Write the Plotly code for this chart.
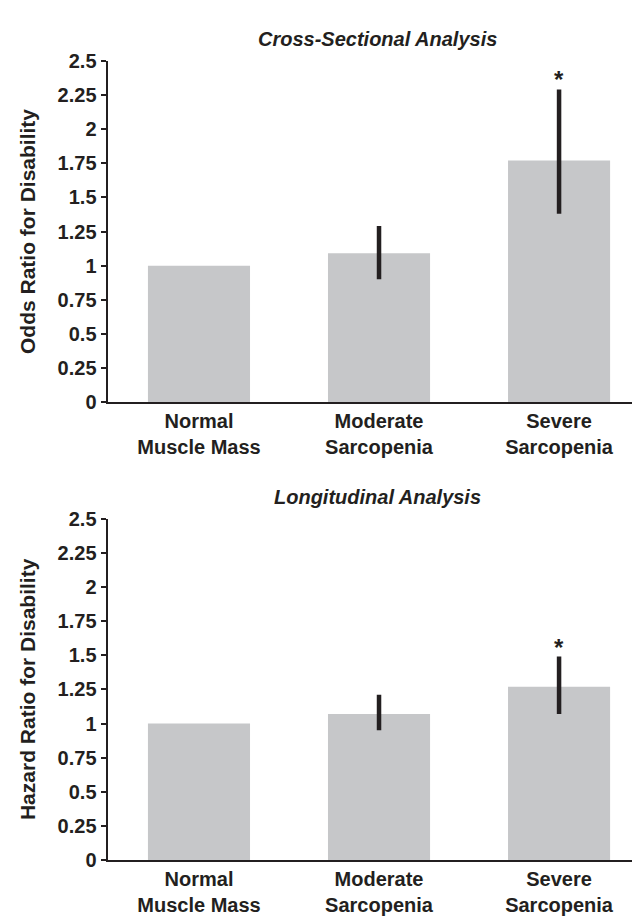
import plotly.graph_objects as go

categories = ["Normal<br>Muscle Mass", "Moderate<br>Sarcopenia", "Severe<br>Sarcopenia"]

# Cross-sectional analysis: odds ratios with 95% CI
or_values = [1.00, 1.09, 1.77]
or_upper = [None, 1.29, 2.29]
or_lower = [None, 0.90, 1.38]

# Longitudinal analysis: hazard ratios with 95% CI
hr_values = [1.00, 1.07, 1.27]
hr_upper = [None, 1.21, 1.49]
hr_lower = [None, 0.95, 1.07]

significant = [False, False, True]

y_ticks = [0, 0.25, 0.5, 0.75, 1, 1.25, 1.5, 1.75, 2, 2.25, 2.5]
y_tick_text = ["0", "0.25", "0.5", "0.75", "1", "1.25", "1.5", "1.75", "2", "2.25", "2.5"]

titles = ["Cross-Sectional Analysis", "Longitudinal Analysis"]
y_titles = ["Odds Ratio for Disability", "Hazard Ratio for Disability"]

FONT = "Liberation Sans, Arial, Helvetica, sans-serif"
INK = "#231f20"
BAR = "#c6c7c9"


def err(vals, up, lo):
    plus = [None if u is None else u - v for v, u in zip(vals, up)]
    minus = [None if l is None else v - l for v, l in zip(vals, lo)]
    return plus, minus


fig = go.Figure()

panels = [
    (or_values, or_upper, or_lower, "x", "y"),
    (hr_values, hr_upper, hr_lower, "x2", "y2"),
]
for vals, up, lo, xa, ya in panels:
    plus, minus = err(vals, up, lo)
    fig.add_trace(go.Bar(
        x=categories, y=vals, xaxis=xa, yaxis=ya,
        marker=dict(color=BAR, line=dict(width=0)),
        width=0.567,
        error_y=dict(type="data", symmetric=False, array=plus, arrayminus=minus,
                     color=INK, thickness=4.5, width=0),
        hoverinfo="skip", showlegend=False,
    ))
    for i, (s, u) in enumerate(zip(significant, up)):
        if s:
            fig.add_annotation(x=categories[i], y=u, xref=xa, yref=ya, text="<b>*</b>",
                               showarrow=False, yanchor="bottom", yshift=-6,
                               font=dict(family=FONT, size=24, color=INK))

axis_common_y = dict(
    range=[0, 2.5], tickvals=y_ticks, ticktext=y_tick_text,
    ticks="outside", ticklen=5, tickwidth=1.5, tickcolor=INK,
    showline=True, linecolor=INK, linewidth=2, showgrid=False, zeroline=False,
    tickfont=dict(family=FONT, size=20, color=INK, weight="bold"),
    fixedrange=True,
)
axis_common_x = dict(
    range=[-0.508, 2.494], showline=True, linecolor=INK, linewidth=2,
    ticks="", showgrid=False, zeroline=False, domain=[0.1555, 1.0],
    tickfont=dict(family=FONT, size=20, color=INK, weight="bold"),
    fixedrange=True,
)

fig.update_layout(
    width=640, height=919,
    margin=dict(l=0, r=0, t=0, b=0),
    paper_bgcolor="white", plot_bgcolor="white",
    xaxis=dict(axis_common_x, anchor="y"),
    yaxis=dict(axis_common_y, domain=[0.5727, 0.9535], anchor="x",
               title=dict(text=y_titles[0], standoff=16,
                          font=dict(family=FONT, size=21, color=INK, weight="bold"))),
    xaxis2=dict(axis_common_x, anchor="y2"),
    yaxis2=dict(axis_common_y, domain=[0.0624, 0.4429], anchor="x2",
                title=dict(text=y_titles[1], standoff=16,
                           font=dict(family=FONT, size=21, color=INK, weight="bold"))),
)

fig.add_annotation(text="<b><i>" + titles[0] + "</i></b>", xref="paper", yref="paper",
                   x=(0.1555 + 1.0) / 2, y=1 - 20 / 919, showarrow=False,
                   yanchor="middle", font=dict(family=FONT, size=20, color=INK))
fig.add_annotation(text="<b><i>" + titles[1] + "</i></b>", xref="paper", yref="paper",
                   x=(0.1555 + 1.0) / 2, y=1 - 490 / 919, showarrow=False,
                   yanchor="middle", font=dict(family=FONT, size=20, color=INK))

fig.write_html("out.html")
